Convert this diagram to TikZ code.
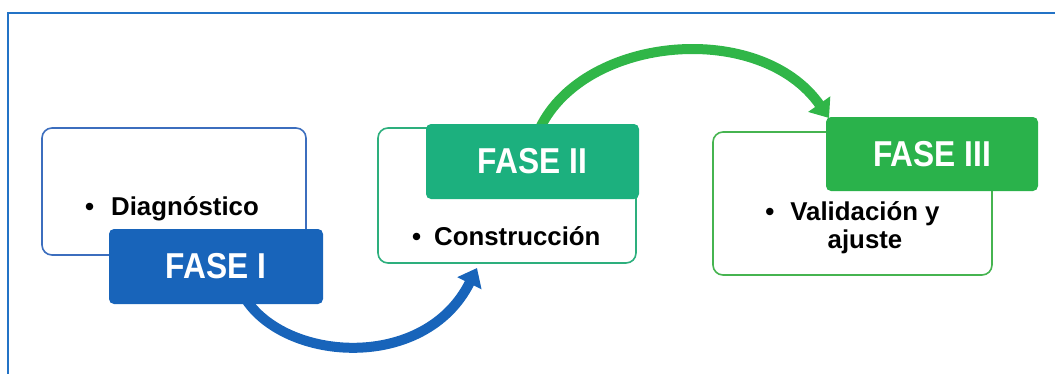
\documentclass[tikz,border=0pt]{standalone}
\usepackage{fontspec}
\usepackage{graphicx}
\setmainfont{Liberation Sans}
\usetikzlibrary{arrows.meta}
\definecolor{framecol}{RGB}{35,115,198}
\definecolor{b1col}{RGB}{60,110,190}
\definecolor{f1col}{RGB}{24,100,186}
\definecolor{b2col}{RGB}{45,175,125}
\definecolor{f2col}{RGB}{28,176,126}
\definecolor{b3col}{RGB}{70,180,80}
\definecolor{f3col}{RGB}{42,178,75}
\definecolor{garrow}{RGB}{48,182,72}
\newcommand{\fasetxt}[1]{\scalebox{0.88}[1]{#1}}
\tikzset{
  outline/.style={draw, line width=1.6pt, rounded corners=10pt, fill=white, inner sep=0},
  fasebox/.style={rounded corners=5pt, inner sep=0, text=white, font=\fontsize{36}{40}\selectfont\bfseries},
  itemtext/.style={inner sep=0, font=\fontsize{25.8}{28}\selectfont\bfseries},
  bigarrow/.style={line width=10pt, -{Triangle[length=17pt,width=26pt]}},
}
\begin{document}
\begin{tikzpicture}[x=1pt,y=-1pt]
\useasboundingbox (0,0) rectangle (1055,373);
% frame
\draw[framecol, line width=2.2pt] (8,380) -- (8,13) -- (1060,13);
% outline boxes
\node[outline, draw=b1col, minimum width=264pt, minimum height=127pt] (b1) at (174,191.5) {};
\node[outline, draw=b2col, minimum width=258pt, minimum height=135pt] (b2) at (507,195.5) {};
\node[outline, draw=b3col, minimum width=279pt, minimum height=143pt] (b3) at (852.5,203.5) {};
% arrow coordinates
\coordinate (a1s) at (245,298);
\coordinate (a1e) at (477,268);
\coordinate (a2s) at (540,128);
\coordinate (a2e) at (829,118);
% arrows
\draw[bigarrow, f1col] (a1s) .. controls (285,362) and (425,372) .. (a1e);
\draw[bigarrow, garrow] (a2s) .. controls (585,35) and (760,20) .. (a2e);
% phase boxes
\node[fasebox, fill=f1col, minimum width=214pt, minimum height=75pt] (f1) at (216,266.5) {\fasetxt{FASE I}};
\node[fasebox, fill=f2col, minimum width=213pt, minimum height=75pt] (f2) at (532.5,161.5) {\fasetxt{FASE II}};
\node[fasebox, fill=f3col, minimum width=212pt, minimum height=74pt] (f3) at (932,154) {\fasetxt{FASE III}};
% item texts
\node[itemtext, anchor=base west] (t1) at (111,215) {\llap{\textbullet\hspace{17pt}}Diagnóstico};
\node[itemtext, anchor=base west] (t2) at (434,245) {\llap{\textbullet\hspace{13pt}}Construcción};
\node[itemtext, anchor=base] (t3a) at (865,220) {\llap{\textbullet\hspace{16pt}}Validación y};
\node[itemtext, anchor=base] (t3b) at (865,248) {ajuste};
\end{tikzpicture}
\end{document}
